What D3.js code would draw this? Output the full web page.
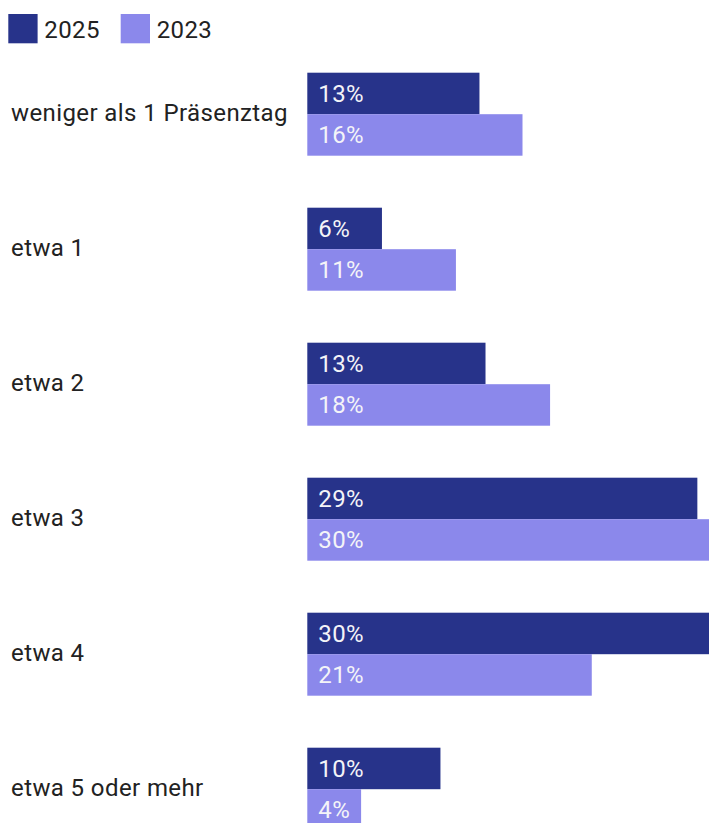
<!DOCTYPE html>
<html>
<head>
<meta charset="utf-8">
<script src="https://cdn.jsdelivr.net/npm/d3@7"></script>
<style>
  html, body { margin: 0; padding: 0; background: #fff; overflow: hidden; }
  svg { display: block; }
  text { font-family: Roboto, "Noto Sans", sans-serif; letter-spacing: 0.4px; }
</style>
</head>
<body>
<svg id="chart" width="709" height="823"></svg>
<script>
const categories = ["weniger als 1 Präsenztag", "etwa 1", "etwa 2", "etwa 3", "etwa 4", "etwa 5 oder mehr"];
const seriesNames = ["2025", "2023"];
const values2025 = [12.8, 5.55, 13.25, 29.0, 30.0, 9.9];
const values2023 = [16.0, 11.05, 18.05, 30.0, 21.15, 4.0];
const colors = ["#27338a", "#8b88eb"];

const W = 709, H = 823;
const svg = d3.select("#chart");
const fontSize = 24;

const x = d3.scaleLinear().domain([0, 30]).range([307.3, 710.8]);
const y0 = d3.scaleBand().domain(categories).range([72.7, 72.7 + 135 * categories.length]).paddingInner(0).paddingOuter(0);
const y1 = d3.scaleBand().domain(seriesNames).range([0, 83]);

const data = categories.map((c, i) => ({ cat: c, vals: [
  { s: "2025", v: values2025[i] },
  { s: "2023", v: values2023[i] }
]}));

// legend
const legend = svg.append("g");
const legendX = [8.3, 120.7];
seriesNames.forEach((s, i) => {
  legend.append("rect")
    .attr("x", legendX[i]).attr("y", 14)
    .attr("width", 29.3).attr("height", 29.3)
    .attr("fill", colors[i]);
  legend.append("text")
    .attr("x", legendX[i] + 36).attr("y", 38.3)
    .attr("font-size", fontSize)
    .attr("fill", "#222")
    .text(s);
});

// groups
const groups = svg.append("g").selectAll("g").data(data).join("g")
  .attr("transform", d => `translate(0,${y0(d.cat)})`);

groups.append("text")
  .attr("x", 11)
  .attr("y", y1.bandwidth() - 2)
  .attr("dy", "0.35em")
  .attr("font-size", fontSize)
  .attr("fill", "#222")
  .text(d => d.cat);

const bars = groups.selectAll("g.bar").data(d => d.vals).join("g").attr("class", "bar");

bars.append("rect")
  .attr("x", x(0))
  .attr("y", d => y1(d.s))
  .attr("width", d => x(d.v) - x(0))
  .attr("height", y1.bandwidth())
  .attr("fill", (d, i) => colors[seriesNames.indexOf(d.s)]);

bars.append("text")
  .attr("x", x(0) + 11)
  .attr("y", d => y1(d.s) + y1.bandwidth() / 2)
  .attr("dy", "0.35em")
  .attr("font-size", fontSize)
  .attr("fill", "#f4f4f8")
  .text(d => d3.format(".0f")(d.v) + "%");
</script>
</body>
</html>
